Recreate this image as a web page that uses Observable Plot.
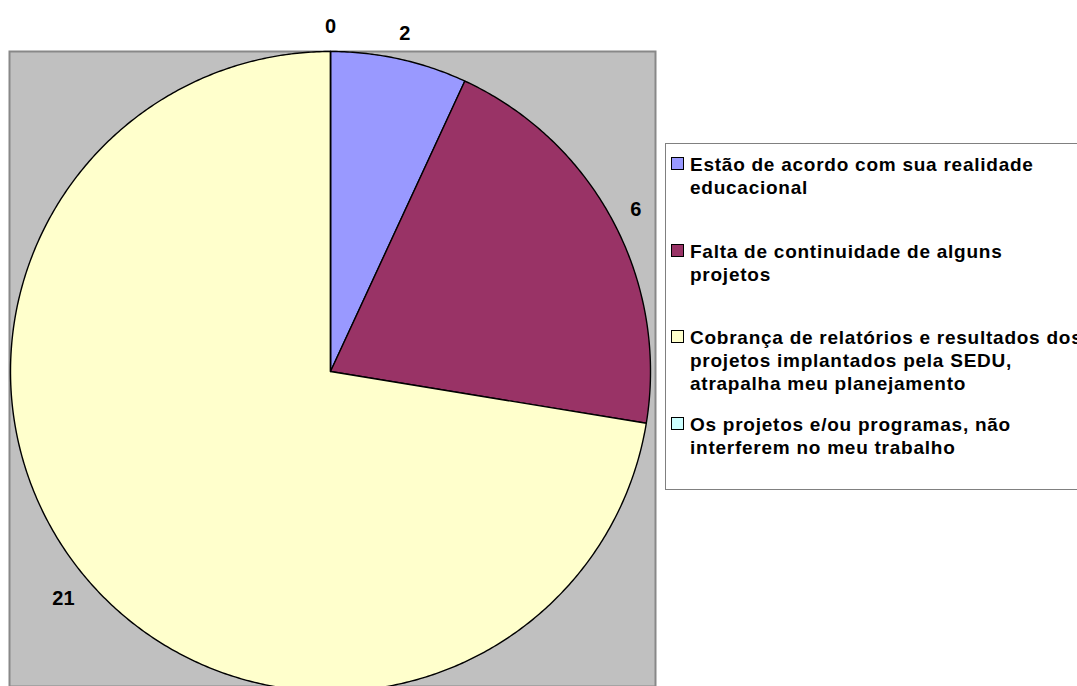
<!DOCTYPE html>
<html>
<head>
<meta charset="utf-8">
<script src="https://cdn.jsdelivr.net/npm/d3@7"></script>
<script src="https://cdn.jsdelivr.net/npm/@observablehq/plot@0.6"></script>
<style>
  html, body { margin: 0; padding: 0; background: #fff; overflow: hidden; }
  #wrap { position: relative; width: 1077px; height: 686px; overflow: hidden; font-family: "Liberation Sans", Arial, sans-serif; }
  #legend { position: absolute; left: 665px; top: 143px; width: 430px; height: 347px; border: 1px solid #808080; box-sizing: border-box; background: #fff; }
  .item { position: absolute; left: 5px; width: 420px; font-size: 19px; font-weight: bold; line-height: 23px; color: #000; white-space: nowrap; letter-spacing: 0.75px; }
  .sw { position: absolute; left: 0; top: 4px; width: 11px; height: 11px; border: 1px solid #000; }
  .txt { position: absolute; left: 19px; top: 0; }
</style>
</head>
<body>
<div id="wrap"></div>
<script>
// ---- data ----
const categories = [
  "Estão de acordo com sua realidade educacional",
  "Falta de continuidade de alguns projetos",
  "Cobrança de relatórios e resultados dos projetos implantados pela SEDU, atrapalha meu planejamento",
  "Os projetos e/ou programas, não interferem no meu trabalho"
];
const values = [2, 6, 21, 0];
const colors = ["#9999FF", "#993366", "#FFFFCC", "#CCFFFF"];
const legendLines = [
  ["Estão de acordo com sua realidade", "educacional"],
  ["Falta de continuidade de alguns", "projetos"],
  ["Cobrança de relatórios e resultados dos", "projetos implantados pela SEDU,", "atrapalha meu planejamento"],
  ["Os projetos e/ou programas, não", "interferem no meu trabalho"]
];

// ---- layout ----
const W = 1077, H = 686;
const R = 320;                     // pie radius in pixels
const pieCx = 330, pieTop = 51;    // pie center x, pie top y
const areaLeft = 9, areaRight = 655;
const pieCy = pieTop + R;

const arcs = d3.pie().sort(null).value(d => d)(values);

// polygon vertices for each slice (unit circle, y up)
const verts = [];
arcs.forEach((a, i) => {
  const cat = categories[i];
  verts.push({cat, x: 0, y: 0});
  const n = Math.max(2, Math.ceil((a.endAngle - a.startAngle) / (Math.PI / 360)));
  for (let k = 0; k <= n; k++) {
    const t = a.startAngle + (a.endAngle - a.startAngle) * k / n;
    verts.push({cat, x: Math.sin(t), y: Math.cos(t)});
  }
  verts.push({cat, x: 0, y: 0});
});

// label positions: just outside the edge
const fs = 20;
const labels = arcs.map((a, i) => {
  const m = (a.startAngle + a.endAngle) / 2;
  const txt = String(values[i]);
  const hw = txt.length * 0.556 * fs / 2, hh = 7.5;
  const rp = R + 17 + hw * Math.abs(Math.sin(m)) + hh * Math.abs(Math.cos(m));
  return {txt, x: Math.sin(m) * rp / R, y: Math.cos(m) * rp / R};
});

const chart = Plot.plot({
  width: W,
  height: H,
  marginLeft: areaLeft,
  marginRight: W - areaRight,
  marginTop: pieTop,
  marginBottom: 0,
  style: {background: "#fff", fontFamily: "'Liberation Sans', Arial, sans-serif", overflow: "visible"},
  x: {axis: null, domain: [(areaLeft - pieCx) / R, (areaRight - pieCx) / R]},
  y: {axis: null, domain: [-(H - pieCy) / R, 1]},
  color: {domain: categories, range: colors},
  marks: [
    Plot.frame({fill: "#C0C0C0", stroke: "#888888", strokeWidth: 2}),
    Plot.line(verts, {x: "x", y: "y", z: "cat", fill: "cat", stroke: "#000", strokeWidth: 1.4, strokeLinejoin: "round", curve: "linear"}),
    Plot.text(labels, {x: "x", y: "y", text: "txt", fontSize: fs, fontWeight: "bold", fill: "#000", textAnchor: "middle", lineAnchor: "middle", clip: false})
  ]
});

const wrap = document.getElementById("wrap");
wrap.appendChild(chart);

// legend
const legend = document.createElement("div");
legend.id = "legend";
const step = 86.7, firstBaseline = 171;
legendLines.forEach((lines, i) => {
  const it = document.createElement("div");
  it.className = "item";
  it.style.top = (firstBaseline + i * step - 143 - 19) + "px";
  const sw = document.createElement("div");
  sw.className = "sw";
  sw.style.background = colors[i];
  const t = document.createElement("div");
  t.className = "txt";
  t.innerHTML = lines.join("<br>");
  it.appendChild(sw);
  it.appendChild(t);
  legend.appendChild(it);
});
wrap.appendChild(legend);
</script>
</body>
</html>
